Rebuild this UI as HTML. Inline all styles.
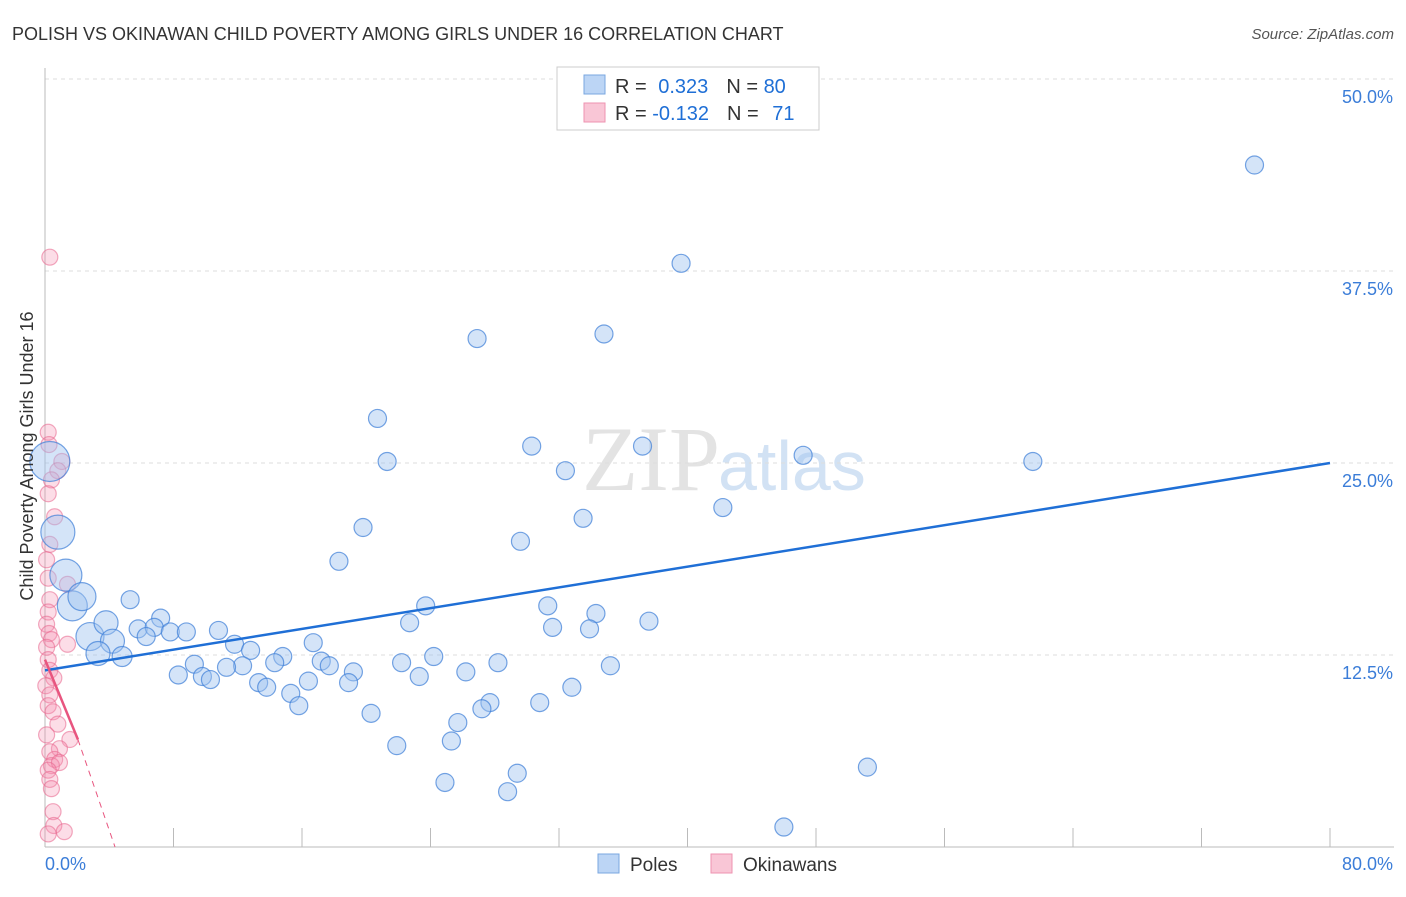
<!DOCTYPE html>
<html><head><meta charset="utf-8"><style>
body{margin:0;background:#fff;font-family:"Liberation Sans",sans-serif}
</style></head><body>
<svg width="1406" height="892" xmlns="http://www.w3.org/2000/svg" font-family="Liberation Sans, sans-serif">
<text x="12" y="40" font-size="18" fill="#333">POLISH VS OKINAWAN CHILD POVERTY AMONG GIRLS UNDER 16 CORRELATION CHART</text>
<text x="1394" y="39" font-size="15" fill="#555" text-anchor="end" font-style="italic">Source: ZipAtlas.com</text>
<text x="720" y="490" font-size="92" fill="#ddd" text-anchor="end" font-family="Liberation Serif, serif" opacity="0.8">ZIP</text>
<text x="718" y="490" font-size="70" fill="#c8dcf2" opacity="0.8">atlas</text>
<g id="grid"></g>
<g id="axes"></g>
<g id="pts"></g>
<g id="trends"></g>
<text transform="translate(33,456) rotate(-90)" font-size="18" fill="#333" text-anchor="middle">Child Poverty Among Girls Under 16</text>
<g>
<rect x="557" y="67" width="262" height="63" fill="#fff" stroke="#ccc"/>
<rect x="584" y="75" width="21" height="19" fill="#bcd5f5" stroke="#7aa7e0"/>
<rect x="584" y="103" width="21" height="19" fill="#f9c6d6" stroke="#ee93b0"/>
<text x="615" y="93" font-size="20" fill="#333">R = <tspan fill="#1f6fd6" dx="6">0.323</tspan><tspan dx="18">N = </tspan><tspan fill="#1f6fd6">80</tspan></text>
<text x="615" y="120" font-size="20" fill="#333">R = <tspan fill="#1f6fd6">-0.132</tspan><tspan dx="18">N = </tspan><tspan fill="#1f6fd6" dx="8">71</tspan></text>
</g>
<g>
<rect x="598" y="854" width="21" height="19" fill="#bcd5f5" stroke="#7aa7e0"/>
<text x="630" y="871" font-size="19" fill="#333">Poles</text>
<rect x="711" y="854" width="21" height="19" fill="#f9c6d6" stroke="#ee93b0"/>
<text x="743" y="871" font-size="19" fill="#333">Okinawans</text>
</g>
</svg>
<script>
const blueX=[75.3,39.6,34.8,26.9,20.7,30.3,37.2,47.2,61.5,21.3,32.4,42.2,33.5,19.8,29.6,18.3,5.3,23.7,31.3,34.3,7.2,22.7,37.6,31.6,33.9,5.8,6.8,7.8,8.8,10.8,6.3,11.8,16.7,12.8,14.8,24.2,9.3,14.3,17.2,17.7,12.3,11.3,22.2,28.2,35.2,8.3,19.2,26.2,9.8,10.3,16.4,23.3,18.9,13.3,13.8,15.3,15.8,27.7,27.2,30.8,32.8,20.3,25.7,25.3,21.9,29.4,24.9,28.8,51.2,46.0,0.3,0.8,1.3,1.7,2.3,2.8,3.8,4.2,3.3,4.8];
const blueY=[44.4,38.0,33.4,33.1,27.9,26.1,26.1,25.5,25.1,25.1,24.5,22.1,21.4,20.8,19.9,18.6,16.1,15.7,15.7,15.2,14.9,14.6,14.7,14.3,14.2,14.2,14.3,14.0,14.0,14.1,13.7,13.2,13.3,12.8,12.4,12.4,11.9,12.0,12.1,11.8,11.8,11.7,12.0,12.0,11.8,11.2,11.4,11.4,11.1,10.9,10.8,11.1,10.7,10.7,10.4,10.0,9.2,9.4,9.0,9.4,10.4,8.7,8.1,6.9,6.6,4.8,4.2,3.6,5.2,1.3,25.1,20.5,17.7,15.7,16.3,13.7,14.6,13.4,12.6,12.4];
const blueSize=[9,9,9,9,9,9,9,9,9,9,9,9,9,9,9,9,9,9,9,9,9,9,9,9,9,9,9,9,9,9,9,9,9,9,9,9,9,9,9,9,9,9,9,9,9,9,9,9,9,9,9,9,9,9,9,9,9,9,9,9,9,9,9,9,9,9,9,9,9,9,20,17,16,15,14,14,12,12,12,10];
const pinkX=[0.3,0.2,0.25,1.05,0.8,0.4,0.2,0.6,0.3,0.1,0.2,1.4,0.3,0.2,0.1,0.25,0.4,0.1,1.4,0.2,0.3,0.55,0.05,0.3,0.2,0.5,0.8,0.1,1.55,0.9,0.3,0.6,0.4,0.9,0.2,0.3,0.4,0.5,0.55,1.2,0.2];
const pinkY=[38.4,27.0,26.2,25.1,24.5,23.9,23.0,21.5,19.7,18.7,17.5,17.1,16.1,15.3,14.5,13.9,13.5,13.0,13.2,12.2,11.5,11.0,10.5,9.9,9.2,8.8,8.0,7.3,7.0,6.4,6.2,5.7,5.3,5.5,5.0,4.4,3.8,2.3,1.4,1.0,0.85];
const xTicks=[0,8,16,24,32,40,48,56,64,72,80];
const yTicks=[12.5,25,37.5,50];
const yTickLabels=["12.5%","25.0%","37.5%","50.0%"];
const blueTrend=[[0,11.5],[80,25.0]];
const pinkTrend=[[0,12.2],[2.05,7.0],[4.36,0]];
const NS="http://www.w3.org/2000/svg";
const sx=v=>45+v*(1285/80), sy=v=>847-v*15.36;
function mk(t,a,p){const e=document.createElementNS(NS,t);for(const k in a)e.setAttribute(k,a[k]);p.appendChild(e);return e;}
const grid=document.getElementById('grid'),axes=document.getElementById('axes'),pts=document.getElementById('pts'),tr=document.getElementById('trends');
yTicks.forEach((v,i)=>{const l=mk('line',{x1:45,x2:1394,y1:sy(v),y2:sy(v),stroke:'#ddd','stroke-dasharray':'4,4'},grid);


const t=mk('text',{x:1393,y:sy(v)+24,'font-size':18,fill:'#3b7dd8','text-anchor':'end'},axes);t.textContent=yTickLabels[i];

});
const ax=mk('line',{x1:45,x2:1394,y1:847,y2:847,stroke:'#bbb'},axes);


const ay=mk('line',{x1:45,x2:45,y1:68,y2:847,stroke:'#bbb'},axes);


xTicks.forEach(v=>{if(v===0)return;const l=mk('line',{x1:sx(v),x2:sx(v),y1:828,y2:847,stroke:'#bbb'},axes);

});
let t0=mk('text',{x:45,y:870,'font-size':18,fill:'#3b7dd8'},axes);t0.textContent=xTicks[0].toFixed(1)+'%';


let t1=mk('text',{x:1393,y:870,'font-size':18,fill:'#3b7dd8','text-anchor':'end'},axes);t1.textContent=xTicks[xTicks.length-1].toFixed(1)+'%';


pinkX.forEach((x,i)=>{const c=mk('circle',{cx:sx(x),cy:sy(pinkY[i]),r:8,fill:'rgba(244,143,177,0.3)',stroke:'rgba(232,100,140,0.55)','stroke-width':1.2},pts);

});
blueX.forEach((x,i)=>{const c=mk('circle',{cx:sx(x),cy:sy(blueY[i]),r:blueSize[i],fill:'rgba(160,195,240,0.45)',stroke:'rgba(60,125,215,0.7)','stroke-width':1.2},pts);

});
const bl=mk('line',{x1:sx(blueTrend[0][0]),y1:sy(blueTrend[0][1]),x2:sx(blueTrend[1][0]),y2:sy(blueTrend[1][1]),stroke:'#1f6fd6','stroke-width':2.5},tr);


const pl=mk('line',{x1:sx(pinkTrend[0][0]),y1:sy(pinkTrend[0][1]),x2:sx(pinkTrend[1][0]),y2:sy(pinkTrend[1][1]),stroke:'#e8557f','stroke-width':2.5},tr);


const pd=mk('line',{x1:sx(pinkTrend[1][0]),y1:sy(pinkTrend[1][1]),x2:sx(pinkTrend[2][0]),y2:sy(pinkTrend[2][1]),stroke:'#e8557f','stroke-width':1,'stroke-dasharray':'6,5'},tr);


</script>
</body></html>
